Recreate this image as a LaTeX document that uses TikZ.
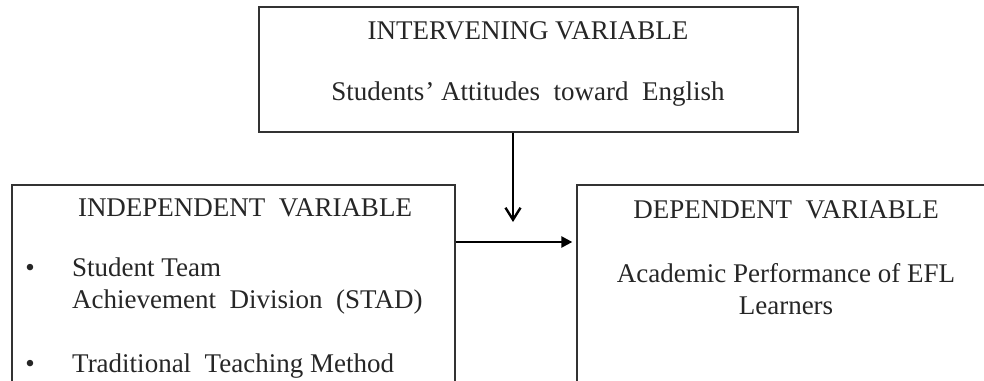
\documentclass[tikz,border=0pt]{standalone}
\usepackage{fontspec}
\setmainfont{Liberation Serif}
\usetikzlibrary{arrows.meta,positioning}

\begin{document}
\begin{tikzpicture}[x=1pt,y=-1pt,
  varbox/.style={draw=black!80,line width=1.3pt,rectangle,inner sep=0pt},
  txt/.style={inner sep=0pt,text=black!85,font=\fontsize{27}{32}\selectfont},
  bul/.style={txt,anchor=west,align=left}]
\useasboundingbox (0,0) rectangle (984,380);
\clip (0,0) rectangle (984,380);
% boxes
\node[varbox,minimum width=539pt,minimum height=125pt] (intervening) at (528.5,69.5) {};
\node[varbox,minimum width=443pt,minimum height=235pt] (independent) at (233.5,302.5) {};
\node[varbox,minimum width=418pt,minimum height=235pt] (dependent) at (786,302.5) {};
% texts
\node[txt] (int_t) at (528,31) {INTERVENING VARIABLE};
\node[txt] (int_v) at (528,94) {Students\kern1pt' Attitudes\ \ toward\ \ English};
\node[txt] (ind_t) at (245,208) {INDEPENDENT\ \ VARIABLE};
\node[txt] (b_1) at (30,270) {\textbullet};
\node[bul] (ind_1) at (72,286) {Student Team\\Achievement\ \ Division\ \ (STAD)};
\node[txt] (b_2) at (30,366) {\textbullet};
\node[bul] (ind_2) at (72,366) {Traditional\ \ Teaching Method};
\node[txt] (dep_t) at (786,210) {DEPENDENT\ \ VARIABLE};
\node[txt,align=center] (dep_v) at (786,289) {Academic Performance of EFL\\Learners};
% arrows
\coordinate (down) at (513,222);
\coordinate (mid) at (0,242);
\draw[line width=2.4pt,-{Straight Barb[length=12pt,width=15pt,line width=2.4pt]}] (intervening.south -| down) -- (down);
\draw[line width=2.4pt,-{Triangle[length=11pt,width=11pt]}] (independent.east |- mid) -- ([xshift=-4pt]dependent.west |- mid);
\end{tikzpicture}
\end{document}
